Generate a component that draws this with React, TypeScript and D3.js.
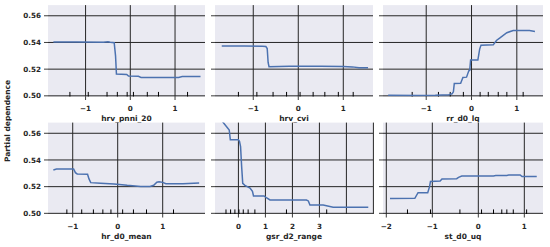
import React from "react";
import * as d3 from "d3";

// ---- data ----
const featureNames = ["hrv_pnni_20", "hrv_cvi", "rr_d0_lq", "hr_d0_mean", "gsr_d2_range", "st_d0_uq"];

const p1X = [-1.72, -1.2, -0.6, -0.5, -0.45, -0.36, -0.33, -0.31, -0.08, -0.04, 0.18, 0.24, 0.6, 1.08, 1.16, 1.3, 1.57];
const p1Y = [0.5403, 0.5403, 0.5402, 0.5405, 0.5401, 0.5398, 0.5300, 0.5163, 0.5160, 0.5148, 0.5146, 0.5138, 0.5138, 0.5138, 0.5145, 0.5145, 0.5145];

const p2X = [-1.70, -1.2, -0.8, -0.72, -0.69, -0.67, -0.65, -0.2, 0.5, 1.0, 1.2, 1.35, 1.55];
const p2Y = [0.5373, 0.5373, 0.5372, 0.5370, 0.5355, 0.5250, 0.5218, 0.5222, 0.5221, 0.5220, 0.5217, 0.5211, 0.5210];

const p3X = [-1.84, -1.2, -0.8, -0.5, -0.43, -0.40, -0.38, -0.24, -0.19, -0.11, -0.06, -0.04, -0.02, 0.14, 0.18, 0.21, 0.48, 0.55, 0.62, 0.78, 0.92, 1.28, 1.40];
const p3Y = [0.5005, 0.5003, 0.5004, 0.5008, 0.5015, 0.5030, 0.5093, 0.5095, 0.5138, 0.5140, 0.5188, 0.5190, 0.5268, 0.5268, 0.5350, 0.5380, 0.5382, 0.5415, 0.5432, 0.5473, 0.5490, 0.5490, 0.5482];

const p4X = [-1.43, -1.36, -0.98, -0.94, -0.90, -0.67, -0.64, -0.60, -0.38, -0.08, 0.21, 0.51, 0.72, 0.80, 0.87, 0.92, 1.00, 1.07, 1.45, 1.81];
const p4Y = [0.5325, 0.5332, 0.5332, 0.5305, 0.5295, 0.5293, 0.5260, 0.5230, 0.5225, 0.5220, 0.5210, 0.5202, 0.5201, 0.5210, 0.5233, 0.5236, 0.5232, 0.5222, 0.5222, 0.5228];

const p5X = [-0.60, -0.40, -0.34, -0.30, 0.0, 0.04, 0.08, 0.12, 0.16, 0.24, 0.43, 0.52, 0.56, 0.95, 1.05, 1.17, 2.52, 2.59, 2.65, 3.14, 3.51, 4.81];
const p5Y = [0.5690, 0.5640, 0.5625, 0.5552, 0.5552, 0.5540, 0.5500, 0.5350, 0.5225, 0.5210, 0.5190, 0.5165, 0.5130, 0.5130, 0.5115, 0.5100, 0.5100, 0.5093, 0.5062, 0.5062, 0.5045, 0.5045];

const p6X = [-1.92, -1.38, -1.31, -1.10, -1.06, -1.04, -0.83, -0.79, -0.47, -0.43, -0.36, 0.33, 0.38, 0.62, 0.66, 0.91, 0.95, 1.27];
const p6Y = [0.5112, 0.5113, 0.5155, 0.5155, 0.5200, 0.5238, 0.5242, 0.5257, 0.5260, 0.5270, 0.5280, 0.5280, 0.5283, 0.5284, 0.5287, 0.5288, 0.5276, 0.5276];

const deciles1 = [-1.35, -0.94, -0.52, -0.29, -0.07, 0.07, 0.38, 0.63, 1.28];
const deciles2 = [-1.33, -0.92, -0.56, -0.26, 0.04, 0.33, 0.59, 0.89, 1.22];
const deciles3 = [-1.31, -0.73, -0.47, -0.18, 0.19, 0.37, 0.59, 0.78, 1.14];
const deciles4 = [-1.13, -0.80, -0.54, -0.33, -0.15, 0.11, 0.35, 0.64, 1.24];
const deciles5 = [-0.46, -0.29, -0.13, 0.02, 0.18, 0.36, 0.61, 1.78, 3.27];
const deciles6 = [-1.54, -1.04, -0.40, 0.07, 0.33, 0.51, 0.62, 0.76, 1.05];

const xTicks1 = [-1, 0, 1];
const xTicks5Grid = [0, 1, 2, 3, 4, 5];
const xTicks5Labels = [0, 1, 2, 3];
const xTicks6 = [-2, -1, 0, 1];
const yTicks = [0.5, 0.52, 0.54, 0.56];
const yDomain = [0.4995, 0.568];

const xDomains = [
  [-1.84, 1.67],
  [-1.85, 1.66],
  [-1.954, 1.578],
  [-1.549, 1.94],
  [-0.867, 4.985],
  [-2.072, 1.406],
];

// ---- layout ----
const cols = [
  { l: 48, r: 205 },
  { l: 215, r: 373 },
  { l: 383, r: 543 },
];
const rows = [
  { t: 5.1, b: 96.5 },
  { t: 122.6, b: 214 },
];

const FONT = "DejaVu Sans, sans-serif";
const TXT = "#262626";
const GRID = "#262626";
const BG = "#eaeaf2";
const LINE = "#4c72b0";

const fmtX = (v: number) => (v < 0 ? "\u2212" + Math.abs(v) : String(v));

const panels = [
  { xs: p1X, ys: p1Y, dec: deciles1, grid: xTicks1, labels: xTicks1 },
  { xs: p2X, ys: p2Y, dec: deciles2, grid: xTicks1, labels: xTicks1 },
  { xs: p3X, ys: p3Y, dec: deciles3, grid: xTicks1, labels: xTicks1 },
  { xs: p4X, ys: p4Y, dec: deciles4, grid: xTicks1, labels: xTicks1 },
  { xs: p5X, ys: p5Y, dec: deciles5, grid: xTicks5Grid, labels: xTicks5Labels },
  { xs: p6X, ys: p6Y, dec: deciles6, grid: xTicks6, labels: xTicks6 },
];

function Panel({ i }: { i: number }) {
  const p = panels[i];
  const c = cols[i % 3];
  const r = rows[Math.floor(i / 3)];
  const x = d3.scaleLinear().domain(xDomains[i]).range([c.l, c.r]);
  const y = d3.scaleLinear().domain(yDomain).range([r.b, r.t]);
  const pts = p.xs.map((v, k) => [v, p.ys[k]] as [number, number]);
  const line = d3
    .line<[number, number]>()
    .x((d) => x(d[0]))
    .y((d) => y(d[1]));
  const h = r.b - r.t;
  const clipId = "clip" + i;
  return (
    <g>
      <defs>
        <clipPath id={clipId}>
          <rect x={c.l} y={r.t} width={c.r - c.l} height={h} />
        </clipPath>
      </defs>
      <rect x={c.l} y={r.t} width={c.r - c.l} height={h} fill={BG} />
      {yTicks.map((t) => (
        <line key={"hy" + t} x1={c.l} x2={c.r} y1={y(t)} y2={y(t)} stroke={GRID} strokeWidth={1} />
      ))}
      {p.grid.map((t) => (
        <line key={"vx" + t} x1={x(t)} x2={x(t)} y1={r.t} y2={r.b} stroke={GRID} strokeWidth={1} />
      ))}
      {p.dec.map((t, k) => (
        <line key={"d" + k} x1={x(t)} x2={x(t)} y1={r.b} y2={r.b - h * 0.05} stroke="#000" strokeWidth={1} />
      ))}
      <path d={line(pts) || ""} fill="none" stroke={LINE} strokeWidth={1.5} clipPath={`url(#${clipId})`} />
      {yTicks.map((t) => (
        <line key={"ty" + t} x1={c.l - 4} x2={c.l} y1={y(t)} y2={y(t)} stroke={TXT} strokeWidth={0.9} />
      ))}
      {i % 3 === 0 &&
        yTicks.map((t) => (
          <text
            key={"ly" + t}
            x={c.l - 7}
            y={y(t) + 2.6}
            textAnchor="end"
            fontFamily={FONT}
            fontWeight="bold"
            fontSize={7.2}
            fill={TXT}
          >
            {t.toFixed(2)}
          </text>
        ))}
      {p.labels.map((t) => (
        <g key={"lx" + t}>
          <line x1={x(t)} x2={x(t)} y1={r.b} y2={r.b + 3.5} stroke={TXT} strokeWidth={0.9} />
          <text
            x={x(t)}
            y={r.b + 14.6}
            textAnchor="middle"
            fontFamily={FONT}
            fontWeight="bold"
            fontSize={7.2}
            fill={TXT}
          >
            {fmtX(t)}
          </text>
        </g>
      ))}
      <text
        x={(c.l + c.r) / 2}
        y={r.b + 24.8}
        textAnchor="middle"
        fontFamily={FONT}
        fontWeight="bold"
        fontSize={7.5}
        fill={TXT}
      >
        {featureNames[i]}
      </text>
    </g>
  );
}

export default function App() {
  return (
    <svg
      width={550}
      height={247}
      style={{ position: "absolute", left: 0, top: 0, background: "#fff" }}
    >
      {panels.map((_, i) => (
        <Panel key={i} i={i} />
      ))}
      <text
        transform="translate(9.5,121) rotate(-90)"
        textAnchor="middle"
        fontFamily={FONT}
        fontWeight="bold"
        fontSize={7.5}
        fill={TXT}
      >
        Partial dependence
      </text>
    </svg>
  );
}
